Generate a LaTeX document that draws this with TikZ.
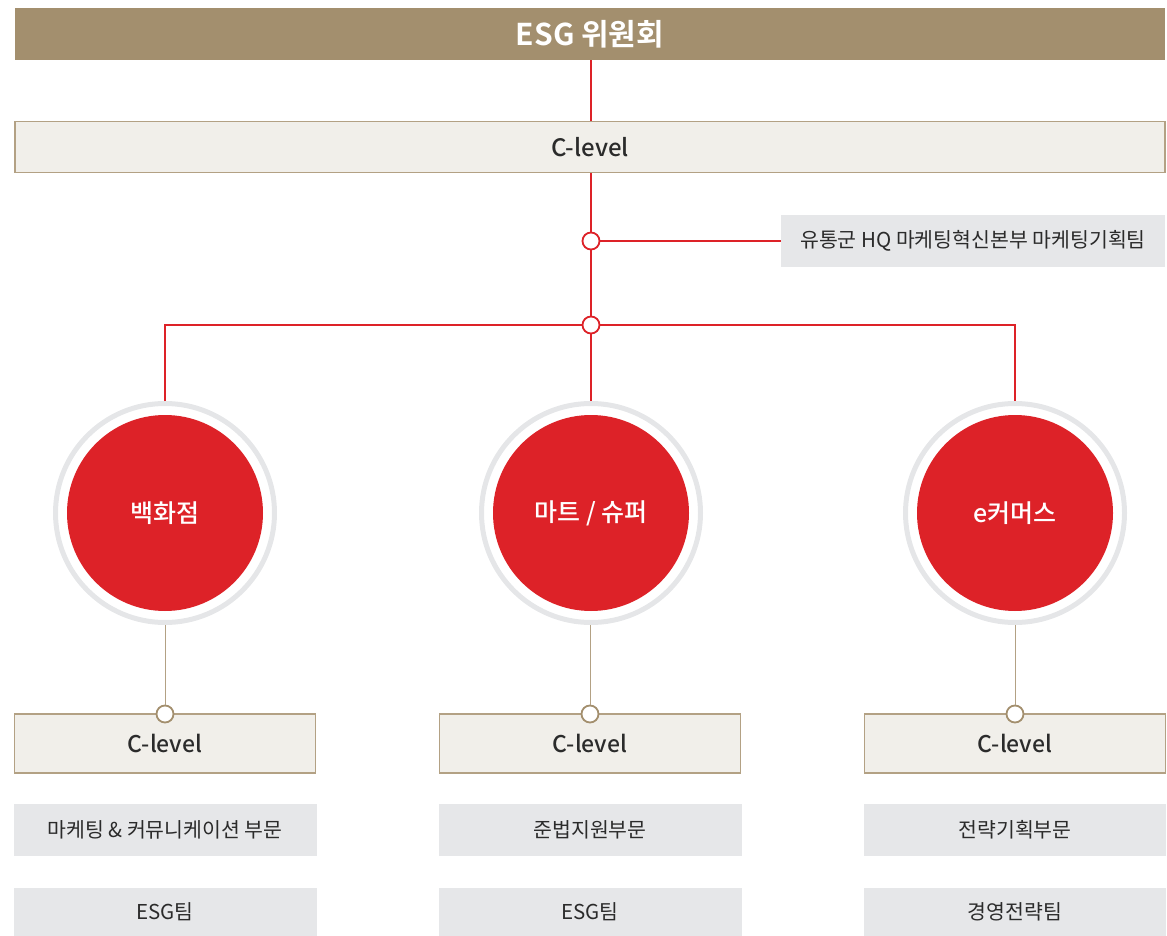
\documentclass[tikz,border=0pt]{standalone}
\usepackage{fontspec}
\setmainfont{Noto Sans CJK KR}
\newfontfamily\krbold{Noto Sans CJK KR Bold}
\newfontfamily\krmed{Noto Sans CJK KR Medium}
\definecolor{tan}{HTML}{A38F6E}
\definecolor{tanline}{HTML}{B3A184}
\definecolor{beige}{HTML}{F1EFEA}
\definecolor{lgray}{HTML}{E6E7E9}
\definecolor{ringgray}{HTML}{E5E6E8}
\definecolor{cred}{HTML}{DD2228}
\definecolor{txt}{HTML}{2B2B2B}
\begin{document}
\begin{tikzpicture}[x=1pt,y=-1pt,
  headbox/.style={fill=tan,draw=none,text=white,font=\krbold\fontsize{30}{34}\selectfont},
  clevelbox/.style={fill=beige,draw=tanline,line width=1.2pt,text=txt,font=\krmed\fontsize{23}{26}\selectfont},
  graybox/.style={fill=lgray,draw=none,text=txt,font=\fontsize{20.5}{24}\selectfont},
  redline/.style={draw=cred,line width=1.05pt},
  tanconn/.style={draw=tanline,line width=1pt},
  reddot/.style={circle,draw=cred,fill=white,line width=1.8pt,minimum size=17pt,inner sep=0pt},
  tandot/.style={circle,draw=tan,fill=white,line width=1.8pt,minimum size=17pt,inner sep=0pt},
  bigcirc/.style={circle,fill=cred,minimum size=196pt,inner sep=0pt,text=white,font=\krmed\fontsize{25}{28}\selectfont},
]
\useasboundingbox (0,0) rectangle (1167,936);
% top
\node[headbox,minimum width=1150pt,minimum height=52pt,inner sep=0pt] (esg) at (590,34) {ESG 위원회};
\node[clevelbox,minimum width=1150pt,minimum height=51pt,inner sep=0pt,font=\krmed\fontsize{24}{27}\selectfont] (cl) at (590,147) {C-level};
\node[graybox,minimum width=384pt,minimum height=52pt,inner sep=0pt] (hq) at (973,241) {유통군 HQ 마케팅혁신본부 마케팅기획팀};
\draw[redline] (esg.south -| 591,0) -- (cl.north -| 591,0);
\node[reddot] (d1) at (591,241) {};
\node[reddot] (d2) at (591,325) {};
\draw[redline] (cl.south -| d1) -- (d1);
\draw[redline] (d1) -- (hq.west);
\draw[redline] (d1) -- (d2);
% big circles
\node[bigcirc] (c1) at (165,513) {백화점};
\node[bigcirc] (c2) at (591,513) {마트 / 슈퍼};
\node[bigcirc] (c3) at (1015,513) {e커머스};
\foreach \x in {165,591,1015}{
  \draw[ringgray,line width=5pt] (\x,513) circle (109.5pt);
}
\coordinate (l1) at (165,325);
\coordinate (l3) at (1015,325);
\coordinate (e1) at (165,401);
\coordinate (e2) at (591,401);
\coordinate (e3) at (1015,401);
\draw[redline] (e1) -- (l1) -- (d2) -- (l3) -- (e3);
\draw[redline] (d2) -- (e2);
% lower
\foreach \i/\x in {1/165,2/590,3/1015}{
  \node[clevelbox,minimum width=301pt,minimum height=59pt,inner sep=0pt] (k\i) at (\x,743.5) {C-level};
  \node[tandot] (t\i) at (\x,714) {};
  \coordinate (b\i) at (\x,625);
  \draw[tanconn] (b\i) -- (t\i);
}
\node[graybox,minimum width=303pt,minimum height=52pt,inner sep=0pt] (g11) at (165,830) {마케팅 \& 커뮤니케이션 부문};
\node[graybox,minimum width=303pt,minimum height=48pt,inner sep=0pt] (g12) at (165,912) {ESG팀};
\node[graybox,minimum width=303pt,minimum height=52pt,inner sep=0pt] (g21) at (590,830) {준법지원부문};
\node[graybox,minimum width=303pt,minimum height=48pt,inner sep=0pt] (g22) at (590,912) {ESG팀};
\node[graybox,minimum width=302pt,minimum height=52pt,inner sep=0pt] (g31) at (1015,830) {전략기획부문};
\node[graybox,minimum width=302pt,minimum height=48pt,inner sep=0pt] (g32) at (1015,912) {경영전략팀};
\end{tikzpicture}
\end{document}
